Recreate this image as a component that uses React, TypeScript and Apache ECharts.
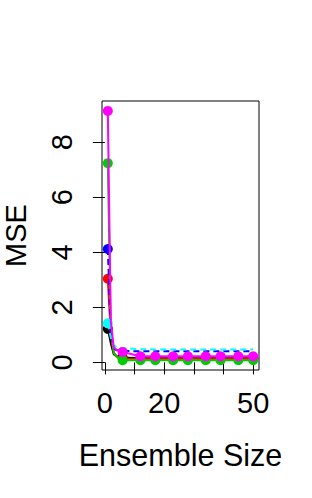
import React, { useEffect, useRef } from "react";
import * as echarts from "echarts";

// Ensemble sizes (x) and which of them carry a plotted marker
const ensembleSizes = [1, 2, 3, 4, 6, 12, 17, 23, 28, 34, 39, 45, 50];
const markerAt = [true, false, false, false, true, true, true, true, true, true, true, true, true];

const seriesNames = ["s1", "s2", "s3", "s4", "s5", "s6"];
const seriesColors = ["#000000", "#FF0000", "#00CD00", "#0000FF", "#00FFFF", "#FF00FF"];
const seriesDashed = [false, false, false, true, true, false];
const plateauMarkers = [true, true, true, false, false, true];

const mse1 = [1.22, 0.7, 0.3, 0.22, 0.18, 0.15, 0.15, 0.15, 0.15, 0.15, 0.15, 0.15, 0.15];
const mse2 = [3.04, 1.0, 0.35, 0.22, 0.14, 0.13, 0.13, 0.13, 0.13, 0.13, 0.13, 0.13, 0.13];
const mse3 = [7.24, 1.2, 0.35, 0.2, 0.08, 0.08, 0.08, 0.08, 0.08, 0.08, 0.08, 0.08, 0.08];
const mse4 = [4.12, 1.2, 0.5, 0.44, 0.42, 0.4, 0.4, 0.4, 0.4, 0.4, 0.4, 0.4, 0.4];
const mse5 = [1.42, 0.9, 0.62, 0.55, 0.52, 0.48, 0.47, 0.47, 0.47, 0.47, 0.47, 0.47, 0.47];
const mse6 = [9.14, 1.5, 0.55, 0.45, 0.38, 0.22, 0.22, 0.22, 0.22, 0.22, 0.22, 0.22, 0.22];
const allMse = [mse1, mse2, mse3, mse4, mse5, mse6];

const xTicks = [0, 10, 20, 30, 40, 50];
const xTickLabels = [0, 20, 50];
const yTicks = [0, 2, 4, 6, 8];

const FONT = "Liberation Sans";

export default function App() {
  const ref = useRef<HTMLDivElement>(null);
  useEffect(() => {
    if (!ref.current) return;
    const chart = echarts.init(ref.current, null, { renderer: "svg" });
    const series = allMse.map((vals, si) => ({
      name: seriesNames[si],
      type: "line",
      clip: false,
      z: 2 + si,
      symbol: "circle",
      symbolSize: 10,
      data: vals.map((v, i) => {
        const show = markerAt[i] && (i === 0 || plateauMarkers[si]);
        return show ? { value: [ensembleSizes[i], v] } : { value: [ensembleSizes[i], v], symbol: "none" };
      }),
      lineStyle: { color: seriesColors[si], width: 2, type: seriesDashed[si] ? [6, 4] : "solid" },
      itemStyle: { color: seriesColors[si] },
    }));
    chart.setOption({
      animation: false,
      backgroundColor: "#ffffff",
      grid: {
        left: 102, top: 101, right: 53, bottom: 128,
        outerBoundsMode: "none", containLabel: false,
        show: true, borderColor: "#000", borderWidth: 1, backgroundColor: "transparent",
      },
      xAxis: {
        type: "value",
        min: -0.96,
        max: 51.96,
        splitLine: { show: false },
        axisLine: { show: false },
        axisTick: { show: true, inside: false, length: 12, customValues: xTicks, lineStyle: { color: "#000", width: 1 } },
        axisLabel: { customValues: xTickLabels, color: "#000", fontFamily: FONT, fontSize: 29, margin: 18 },
        name: "Ensemble Size",
        nameLocation: "middle",
        nameGap: 69,
        nameTextStyle: { color: "#000", fontFamily: FONT, fontSize: 30.5 },
      },
      yAxis: {
        type: "value",
        min: -0.277,
        max: 9.5,
        splitLine: { show: false },
        axisLine: { show: false },
        axisTick: { show: true, inside: false, length: 12, customValues: yTicks, lineStyle: { color: "#000", width: 1 } },
        axisLabel: { customValues: yTicks, rotate: 90, color: "#000", fontFamily: FONT, fontSize: 29, margin: 26 },
        name: "MSE",
        nameLocation: "middle",
        nameRotate: 90,
        nameGap: 74,
        nameTextStyle: { color: "#000", fontFamily: FONT, fontSize: 29, lineHeight: 24 },
      },
      series,
    });
    return () => chart.dispose();
  }, []);
  return <div ref={ref} style={{ position: "fixed", left: 0, top: 0, width: 312, height: 498 }} />;
}
